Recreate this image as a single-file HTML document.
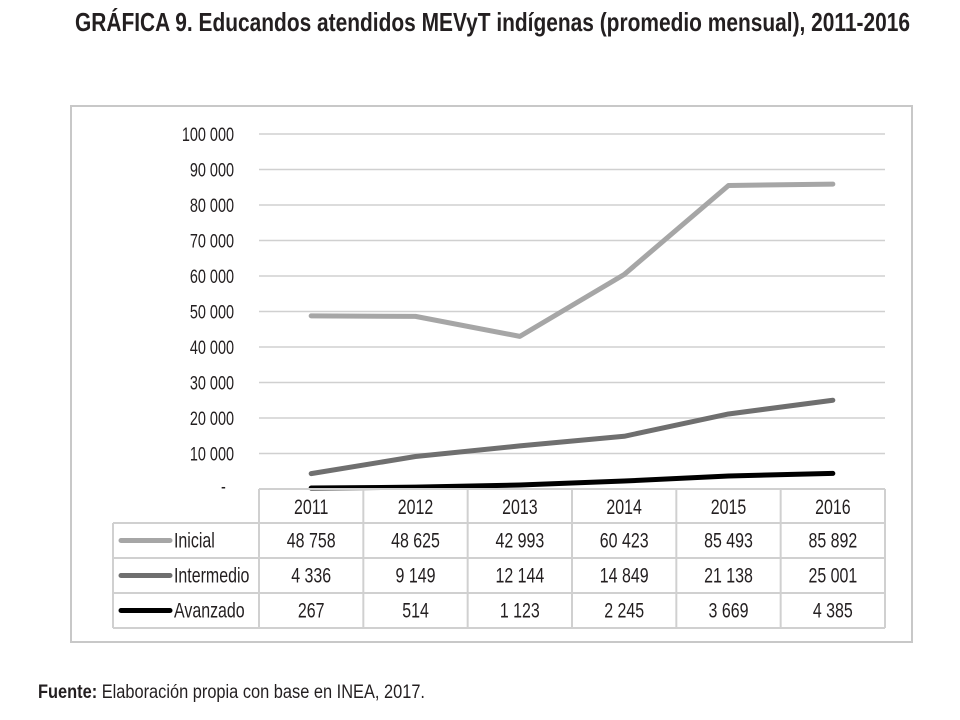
<!DOCTYPE html>
<html><head><meta charset="utf-8"><style>
body{margin:0;background:#fff;width:960px;height:715px;overflow:hidden;font-family:"Liberation Sans",sans-serif;}
svg text{font-family:"Liberation Sans",sans-serif;}
</style></head><body>
<svg width="960" height="715">
<text x="75" y="31" font-size="26" font-weight="bold" fill="#231f20" textLength="835" lengthAdjust="spacingAndGlyphs">GRÁFICA 9. Educandos atendidos MEVyT indígenas (promedio mensual), 2011-2016</text>
<rect x="71" y="106" width="841" height="536" fill="none" stroke="#c8c8c8" stroke-width="2"/>
<g id="grid"></g><g id="lines"></g><g id="table"></g>
<text x="38" y="698" font-size="19" fill="#231f20" textLength="387" lengthAdjust="spacingAndGlyphs"><tspan font-weight="bold">Fuente:</tspan> Elaboración propia con base en INEA, 2017.</text>
</svg>
<script>
const years=["2011","2012","2013","2014","2015","2016"];
const inicial=[48758,48625,42993,60423,85493,85892];
const intermedio=[4336,9149,12144,14849,21138,25001];
const avanzado=[267,514,1123,2245,3669,4385];
const seriesNames=["Inicial","Intermedio","Avanzado"];
const printed=[["48 758","48 625","42 993","60 423","85 493","85 892"],["4 336","9 149","12 144","14 849","21 138","25 001"],["267","514","1 123","2 245","3 669","4 385"]];
const yTicks=[10000,20000,30000,40000,50000,60000,70000,80000,90000,100000];
const tickLabels=["10 000","20 000","30 000","40 000","50 000","60 000","70 000","80 000","90 000","100 000"];
const NS="http://www.w3.org/2000/svg";
const L=259,R=885,colW=(R-L)/6,y0=489,y1=134;
const y=v=>y0-(v/100000)*(y0-y1);
const x=i=>L+colW*(i+0.5);
function mk(t,a,p){const e=document.createElementNS(NS,t);for(const k in a)e.setAttribute(k,a[k]);p.appendChild(e);return e;}
function txt(p,tx,ty,s,anchor,fs,sx){const e=mk('text',{x:0,y:0,'font-size':fs||20,'text-anchor':anchor,fill:'#231f20',transform:'translate('+tx+','+ty+') scale('+(sx||0.76)+',1)'},p);e.textContent=s;return e;}
const g=document.getElementById('grid');
yTicks.forEach((v,i)=>{
 const l=mk('line',{x1:L,x2:R,y1:y(v),y2:y(v),stroke:'#d0d0d0','stroke-width':1.5},g);
 
 
 const t=txt(g,234,y(v)+7,tickLabels[i],'end',19,0.76);
 
 
});
const z=txt(g,221,y0+4,'-','start',19);


const colors=["#a6a6a6","#6f6f6f","#000000"];
const data=[inicial,intermedio,avanzado];
const lg=document.getElementById('lines');
data.forEach((s,k)=>{
 const p=mk('polyline',{points:s.map((v,i)=>x(i)+','+y(v)).join(' '),fill:'none',stroke:colors[k],'stroke-width':5,'stroke-linecap':'round','stroke-linejoin':'round'},lg);
 
 
});
const tb=document.getElementById('table');
const rows=[489,523,558,593,628];
const bc='#d0d0d0';
mk('line',{x1:L,x2:R,y1:489,y2:489,stroke:bc,'stroke-width':2},tb);
for(let r=1;r<5;r++)mk('line',{x1:113,x2:R,y1:rows[r],y2:rows[r],stroke:bc,'stroke-width':2},tb);
mk('line',{x1:113,x2:113,y1:523,y2:628,stroke:bc,'stroke-width':2},tb);
for(let c=0;c<=6;c++)mk('line',{x1:L+c*colW,x2:L+c*colW,y1:489,y2:628,stroke:bc,'stroke-width':2},tb);
years.forEach((yr,i)=>{
 const t=txt(tb,x(i),514,yr,'middle',21);
 
 
});
seriesNames.forEach((n,k)=>{
 const cy=(rows[k+1]+rows[k+2])/2;
 const ln=mk('line',{x1:121,x2:170,y1:cy,y2:cy,stroke:colors[k],'stroke-width':5,'stroke-linecap':'round'},tb);
 
 
 const t=txt(tb,174,cy+7,n,'start',21);
 
 
 printed[k].forEach((v,i)=>{
  const c=txt(tb,x(i),cy+7,v,'middle',21);
  
  
 });
});
</script>
</body></html>
